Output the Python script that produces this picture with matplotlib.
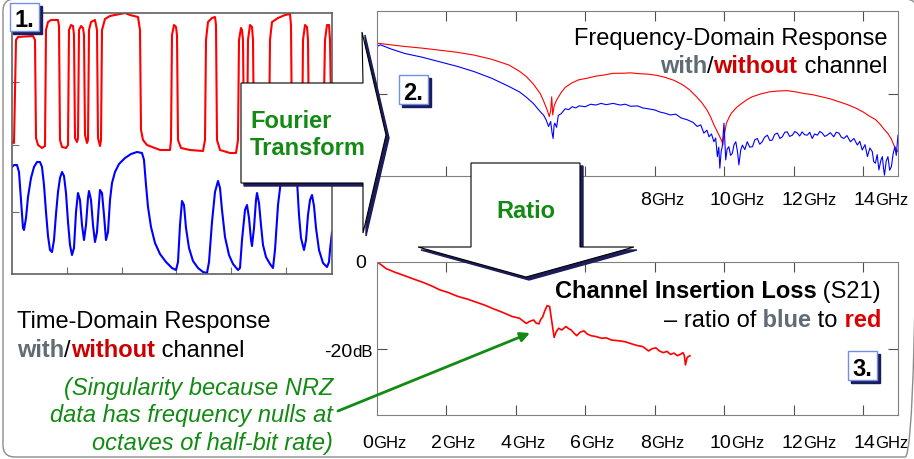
import matplotlib.pyplot as plt
from matplotlib.patches import Polygon, Rectangle, FancyBboxPatch

plt.rcParams['font.family'] = ['Liberation Sans', 'DejaVu Sans']

W, H = 914, 459

# ---- panel 1: time-domain waveforms (arbitrary units)
td_red_t = [0, 2, 4, 6, 21, 23, 24, 26, 30, 33, 34, 36, 39, 46, 47, 48, 50, 54, 56, 57,
            59, 61, 62, 63, 65, 66, 67, 69, 71, 72, 73, 75, 76, 77, 79, 83, 85, 86, 88, 89,
            90, 93, 98, 108, 113, 118, 126, 128, 129, 131, 135, 148, 158, 159, 160, 162, 164, 165, 166, 169,
            178, 191, 193, 194, 196, 200, 203, 204, 205, 208, 218, 224, 226, 227, 229, 230, 231, 232, 234, 235,
            236, 238, 240, 241, 242, 246, 256, 257, 258, 260, 266, 273, 278, 279, 280, 283, 290, 291, 293, 295,
            296, 297, 300, 311, 313, 315, 317, 318, 319]
td_red_v = [132, 131, 234, 237, 238, 234, 136, 129, 126, 128, 244, 252, 254, 254, 248, 134, 127, 126, 129, 244,
            249, 248, 239, 136, 132, 136, 244, 248, 246, 239, 139, 131, 134, 244, 252, 254, 244, 136, 128, 134,
            244, 255, 258, 260, 261, 259, 257, 244, 144, 134, 129, 124, 124, 134, 239, 249, 247, 239, 134, 126,
            124, 123, 134, 234, 252, 256, 257, 249, 134, 124, 121, 121, 134, 234, 246, 244, 234, 134, 124, 129,
            234, 249, 247, 234, 134, 124, 122, 134, 234, 252, 256, 259, 260, 249, 134, 124, 122, 234, 249, 247,
            234, 134, 124, 122, 234, 249, 249, 234, 174]

td_blue_t = [0, 2, 5, 7, 9, 11, 12, 14, 16, 19, 22, 25, 28, 30, 32, 34, 36, 38, 40, 42,
             44, 46, 48, 50, 52, 54, 56, 58, 60, 62, 63, 64, 66, 68, 70, 72, 74, 76, 77, 79,
             81, 83, 85, 87, 88, 90, 92, 94, 96, 98, 100, 103, 107, 113, 119, 125, 130, 132, 134, 136,
             139, 143, 148, 154, 160, 164, 166, 168, 170, 172, 174, 177, 181, 186, 191, 195, 197, 200, 203, 206,
             208, 210, 213, 217, 221, 226, 228, 230, 233, 235, 237, 239, 240, 242, 244, 245, 247, 249, 251, 254,
             258, 261, 263, 266, 269, 273, 278, 283, 285, 287, 289, 292, 294, 296, 298, 300, 302, 304, 307, 311,
             315, 317, 318, 320]
td_blue_v = [107, 109, 109, 102, 74, 46, 44, 56, 77, 96, 107, 112, 112, 107, 89, 62, 38, 24, 22, 34,
             60, 82, 96, 102, 98, 81, 52, 29, 19, 26, 44, 62, 81, 74, 49, 34, 49, 76, 83, 74,
             49, 32, 42, 71, 84, 81, 59, 34, 42, 74, 91, 102, 110, 116, 120, 122, 121, 114, 89, 67,
             47, 31, 20, 12, 6, 4, 12, 49, 73, 69, 46, 26, 13, 6, 2, 1, 12, 52, 82, 93,
             86, 64, 37, 19, 10, 4, 6, 34, 64, 69, 56, 34, 28, 46, 74, 81, 71, 49, 29, 17,
             10, 6, 24, 69, 94, 111, 117, 114, 94, 59, 36, 24, 34, 59, 74, 79, 68, 46, 24, 11,
             7, 12, 24, 42]
td_xticks = [55, 110, 164, 219, 274]
td_yticks = [62, 129, 192]

# ---- panel 2: frequency-domain response (GHz, level)
fd_red_f = [0.0, 0.4, 0.8, 1.3, 1.8, 2.3, 2.8, 3.3, 3.8, 4.1,
            4.3, 4.5, 4.7, 4.8, 4.9, 4.96, 5.0, 5.03, 5.06, 5.1,
            5.17, 5.3, 5.42, 5.6, 5.8, 6.05, 6.3, 6.55, 6.8, 7.05,
            7.3, 7.55, 7.8, 8.05, 8.3, 8.55, 8.8, 9.0, 9.2, 9.35,
            9.5, 9.6, 9.7, 9.8, 9.87, 9.93, 9.96, 9.98, 10.01, 10.06,
            10.13, 10.2, 10.35, 10.5, 10.65, 10.8, 11.05, 11.3, 11.55, 11.8,
            12.05, 12.3, 12.55, 12.8, 13.05, 13.3, 13.55, 13.8, 14.0, 14.2,
            14.35, 14.5, 14.6, 14.7, 14.8, 14.9, 15.0]
fd_red_l = [-7.8, -8.2, -8.6, -9.0, -9.5, -10.0, -10.7, -11.7, -13.1, -14.6,
            -15.9, -17.7, -20.0, -21.9, -24.0, -25.6, -24.2, -20.8, -25.2, -23.0,
            -21.6, -19.8, -18.5, -17.5, -16.7, -16.3, -15.8, -15.5, -15.1, -15.1,
            -15.0, -15.2, -15.3, -15.6, -16.1, -16.8, -17.9, -19.1, -20.8, -22.2,
            -24.0, -25.6, -27.6, -29.3, -30.5, -31.6, -32.5, -30.4, -29.6, -27.2,
            -25.9, -24.8, -23.4, -22.4, -21.5, -20.8, -20.1, -19.6, -19.4, -19.3,
            -19.6, -20.0, -20.3, -20.8, -21.3, -22.0, -22.7, -23.6, -24.5, -25.6,
            -26.3, -27.6, -28.7, -29.6, -30.9, -32.9, -34.1]

fd_blue_f = [0.0, 0.1, 0.4, 0.8, 1.3, 1.8, 2.3, 2.8, 3.3, 3.8,
             4.1, 4.3, 4.5, 4.7, 4.8, 4.87, 4.94, 5.0, 5.04, 5.07,
             5.1, 5.12, 5.17, 5.22, 5.3, 5.42, 5.52, 5.62, 5.72, 5.82,
             6.0, 6.15, 6.3, 6.45, 6.6, 6.8, 7.0, 7.15, 7.3, 7.5,
             7.65, 7.8, 8.0, 8.15, 8.3, 8.45, 8.6, 8.75, 8.94, 9.1,
             9.22, 9.32, 9.41, 9.5, 9.56, 9.63, 9.70, 9.75, 9.80, 9.84,
             9.87, 9.91, 9.94, 9.99, 10.04, 10.08, 10.13, 10.18, 10.23, 10.28,
             10.33, 10.38, 10.42, 10.47, 10.52, 10.59, 10.66, 10.73, 10.81, 10.88,
             10.95, 11.02, 11.09, 11.16, 11.24, 11.31, 11.38, 11.45, 11.53, 11.6,
             11.67, 11.74, 11.81, 11.88, 11.96, 12.03, 12.10, 12.17, 12.24, 12.31,
             12.39, 12.46, 12.53, 12.6, 12.68, 12.75, 12.82, 12.89, 12.96, 13.05,
             13.15, 13.22, 13.30, 13.37, 13.44, 13.53, 13.63, 13.73, 13.83, 13.9,
             13.97, 14.05, 14.12, 14.19, 14.26, 14.3, 14.35, 14.4, 14.45, 14.51,
             14.55, 14.58, 14.61, 14.66, 14.71, 14.76, 14.81, 14.86, 14.91, 14.95,
             15.0]
fd_blue_l = [-8.6, -8.2, -9.2, -10.3, -11.2, -12.3, -13.4, -14.7, -16.3, -18.3,
             -19.6, -20.9, -22.4, -24.4, -25.3, -26.4, -28.0, -26.8, -29.5, -30.9,
             -27.6, -27.2, -28.2, -25.3, -24.9, -23.7, -23.9, -23.2, -23.5, -23.0,
             -23.2, -22.6, -22.8, -22.4, -22.7, -22.4, -22.8, -22.6, -23.1, -23.0,
             -23.5, -23.7, -24.0, -24.5, -24.8, -25.2, -25.0, -25.9, -26.4, -27.0,
             -28.0, -27.6, -29.6, -28.9, -30.5, -29.8, -31.7, -30.8, -35.3, -33.0,
             -38.1, -34.0, -32.9, -27.2, -36.1, -33.5, -32.9, -35.0, -34.5, -32.4,
             -31.7, -34.2, -37.3, -33.8, -32.5, -33.6, -31.7, -33.0, -32.9, -31.2,
             -30.9, -32.3, -31.7, -30.6, -30.1, -31.4, -31.3, -29.9, -29.6, -30.9,
             -30.5, -29.4, -29.3, -30.4, -30.1, -29.2, -29.6, -30.3, -29.3, -30.0,
             -30.1, -29.4, -30.9, -29.8, -30.1, -29.2, -29.6, -30.4, -30.1, -29.5,
             -30.5, -29.4, -29.6, -30.6, -30.9, -30.2, -31.7, -30.9, -32.5, -31.6,
             -33.7, -32.4, -35.3, -33.2, -34.1, -36.5, -36.9, -34.8, -38.5, -36.1,
             -35.3, -37.9, -39.8, -36.4, -35.3, -38.6, -37.7, -34.6, -32.9, -35.0,
             -30.1]

# ---- panel 3: channel insertion loss S21 (GHz, dB)
s21_f = [0.0, 0.13, 0.26, 0.5, 0.78, 1.05, 1.3, 1.55, 1.81, 2.05,
         2.33, 2.6, 2.85, 3.1, 3.37, 3.6, 3.89, 4.1, 4.3, 4.4,
         4.51, 4.58, 4.66, 4.72, 4.77, 4.83, 4.9, 4.97, 5.03, 5.1,
         5.16, 5.23, 5.32, 5.44, 5.52, 5.59, 5.67, 5.75, 5.85, 5.96,
         6.05, 6.16, 6.3, 6.47, 6.6, 6.75, 6.99, 7.15, 7.3, 7.51,
         7.65, 7.82, 7.92, 8.03, 8.13, 8.24, 8.35, 8.45, 8.55, 8.65,
         8.73, 8.81, 8.85, 8.88, 8.93, 9.01]
s21_db = [0.0, -0.7, -1.5, -2.3, -3.1, -3.9, -4.6, -5.4, -6.4, -7.0,
          -7.9, -8.5, -9.2, -9.9, -10.8, -11.5, -12.5, -12.9, -14.1, -13.6,
          -13.3, -14.0, -14.2, -13.1, -12.6, -11.2, -10.0, -10.2, -13.5, -17.3,
          -16.0, -15.2, -15.6, -14.8, -15.3, -15.6, -16.3, -16.9, -16.1, -15.8,
          -16.5, -16.9, -17.1, -17.5, -17.4, -17.9, -18.1, -18.3, -18.7, -19.2,
          -19.4, -20.4, -19.9, -19.7, -20.4, -20.8, -20.5, -21.2, -20.9, -21.5,
          -21.2, -20.8, -21.5, -23.6, -21.9, -21.5]

ghz_ticks = [2, 4, 6, 8, 10, 12, 14]
fd_labels = [8, 10, 12, 14]
s21_labels = [0, 2, 4, 6, 8, 10, 12, 14]

GREEN = '#138a13'
GRAY_TXT = '#5f6b75'
DARKRED = '#cc0000'
NAVY = '#1c1c5a'

fig = plt.figure(figsize=(W / 100, H / 100), dpi=100)


def px_axes(x0, y0, x1, y1):
    return fig.add_axes([x0 / W, 1 - y1 / H, (x1 - x0) / W, (y1 - y0) / H])


def ghz_label(ax, f, drop):
    off = -15 + max(0, f - 10) * 1.2
    num = ax.annotate(str(f), xy=(f, 0), xycoords=('data', 'axes fraction'),
                      xytext=(off, -drop), textcoords='offset pixels',
                      ha='left', va='baseline', fontsize=14)
    ax.annotate('GHz', xy=(1, 0), xycoords=(num, ax.transAxes),
                xytext=(0, -drop), textcoords='offset pixels',
                ha='left', va='baseline', fontsize=12)


# panel 1
ax1 = px_axes(12, 13, 332, 274)
ax1.plot(td_red_t, td_red_v, color='#ff0000', lw=1.5)
ax1.plot(td_blue_t, td_blue_v, color='#0000ff', lw=1.5)
ax1.set_xlim(0, 320)
ax1.set_ylim(0, 261)
ax1.set_xticks(td_xticks)
ax1.set_yticks(td_yticks)
ax1.tick_params(direction='in', length=5, color='#707070',
                labelbottom=False, labelleft=False)
for s in ax1.spines.values():
    s.set_color('#606060')
    s.set_linewidth(1.2)

# panel 2
ax2 = px_axes(377, 11, 898, 176)
ax2.plot(fd_red_f, fd_red_l, color='#ff0000', lw=0.8)
ax2.plot(fd_blue_f, fd_blue_l, color='#0000ff', lw=0.8)
ax2.set_xlim(0, 15)
ax2.set_ylim(-40, 0)
ax2.set_xticks(ghz_ticks)
ax2.set_yticks([-20])
ax2.tick_params(direction='in', length=7, color='#505050', top=True, right=True,
                labelbottom=False, labelleft=False)
for s in ax2.spines.values():
    s.set_color('#808080')
for f in fd_labels:
    ghz_label(ax2, f, 29)

# panel 3
ax3 = px_axes(377, 262, 898, 415)
ax3.plot(s21_f, s21_db, color='#ff0000', lw=1.2)
ax3.set_xlim(0, 15)
ax3.set_ylim(-35.1, 0)
ax3.set_xticks(ghz_ticks)
ax3.set_yticks([-20])
ax3.tick_params(direction='in', length=7, color='#505050', top=True, right=True,
                labelbottom=False, labelleft=False)
for s in ax3.spines.values():
    s.set_color('#808080')
for f in s21_labels:
    ghz_label(ax3, f, 33)
ax3.annotate('0', xy=(0, 0), xycoords=('axes fraction', 'data'), xytext=(-11, -6),
             textcoords='offset pixels', ha='right', va='baseline', fontsize=14)
db = ax3.annotate('dB', xy=(0, -20), xycoords=('axes fraction', 'data'), xytext=(-4, -8),
                  textcoords='offset pixels', ha='right', va='baseline', fontsize=12)
ax3.annotate('-20', xy=(0, -20), xycoords=(db, 'data'), xytext=(0, -8),
             textcoords='offset pixels', ha='right', va='baseline', fontsize=14)

# overlay in pixel coordinates for boxes, arrows and captions
ov = fig.add_axes([0, 0, 1, 1])
ov.set_xlim(0, W)
ov.set_ylim(H, 0)
ov.axis('off')

ov.add_patch(FancyBboxPatch((3, -1), 914, 458, boxstyle='round,pad=0,rounding_size=12',
                            fc='none', ec='#8c8c8c', lw=1))


def shape(pts):
    ov.add_patch(Polygon([(x + 3, y + 3) for x, y in pts], closed=True, fc=NAVY, ec=NAVY, lw=1))
    ov.add_patch(Polygon(pts, closed=True, fc='white', ec='black', lw=0.8))


shape([(241, 83), (363, 83), (362, 32), (386, 135), (363, 233), (363, 183), (241, 183)])
shape([(471, 163), (580, 163), (580, 247), (634, 247), (526, 277), (418, 247), (471, 247)])


def tag(x, y, w, h, s):
    ov.add_patch(Rectangle((x + 3, y + 3), w, h, fc=NAVY, ec=NAVY, lw=1))
    ov.add_patch(Rectangle((x, y), w, h, fc='white', ec='#6f8fe8', lw=1))
    ov.text(x + w / 2, y + h - 4, s, ha='center', va='baseline', fontsize=17, fontweight='bold')


tag(10, 3, 29, 28, '1.')
tag(399, 75, 29, 29, '2.')
tag(848, 351, 29, 29, '3.')


def chain(x, y, parts, align='left', size=17, style='normal'):
    seq = parts if align == 'left' else parts[::-1]
    prev = None
    for s, color, weight in seq:
        kw = dict(color=color, fontweight=weight, fontsize=size, fontstyle=style,
                  ha=align, va='baseline')
        if prev is None:
            prev = ov.text(x, y, s, **kw)
        else:
            fx = 1 if align == 'left' else 0
            prev = ov.annotate(s, xy=(fx, y), xycoords=(prev, 'data'), **kw)


chain(887, 45, [('Frequency-Domain Response', 'black', 'normal')], 'right')
chain(887, 73, [('with', GRAY_TXT, 'bold'), ('/', 'black', 'normal'),
                ('without', DARKRED, 'bold'), (' channel', 'black', 'normal')], 'right')
chain(17, 328, [('Time-Domain Response', 'black', 'normal')])
chain(17, 357, [('with', GRAY_TXT, 'bold'), ('/', 'black', 'normal'),
                ('without', DARKRED, 'bold'), (' channel', 'black', 'normal')])
chain(881, 298, [('Channel Insertion Loss', 'black', 'bold'), (' (S21)', 'black', 'normal')], 'right')
chain(881, 327, [('\u2013 ratio of', 'black', 'normal'), (' blue', GRAY_TXT, 'bold'),
                 (' to', 'black', 'normal'), (' red', '#dd0000', 'bold')], 'right')

for y, s in [(395, '(Singularity because NRZ'), (422, 'data has frequency nulls at'),
             (450, 'octaves of half-bit rate)')]:
    ov.text(333, y, s, ha='right', va='baseline', fontsize=17, fontstyle='italic', color=GREEN)

ov.text(250, 128, 'Fourier', ha='left', va='baseline', fontsize=17, fontweight='bold', color=GREEN)
ov.text(250, 155, 'Transform', ha='left', va='baseline', fontsize=17, fontweight='bold', color=GREEN)
ov.text(526, 218, 'Ratio', ha='center', va='baseline', fontsize=17, fontweight='bold', color=GREEN)

ov.annotate('', xy=(530, 333), xytext=(338, 411),
            arrowprops=dict(arrowstyle='-|>', color=GREEN, lw=2, mutation_scale=14,
                            shrinkA=0, shrinkB=0))

fig.savefig('out.png', dpi=100)
